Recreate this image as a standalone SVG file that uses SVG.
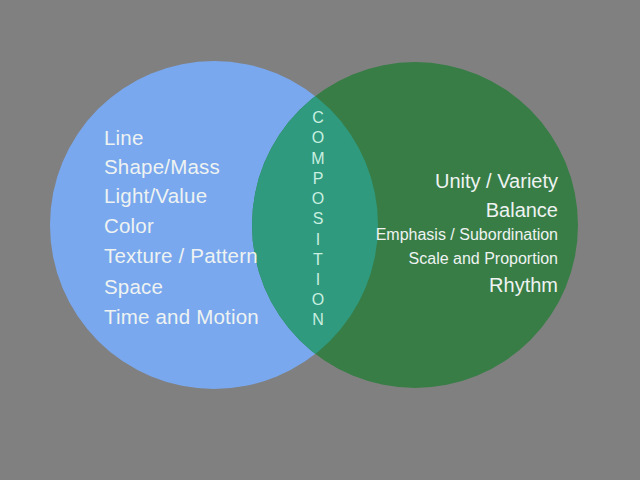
<svg xmlns="http://www.w3.org/2000/svg" width="640" height="480" viewBox="0 0 640 480">
  <style>
    .t { font-family: "Liberation Sans", Arial, sans-serif; fill: #eef3f2; }
    .l { font-size: 20.5px; letter-spacing: 0.2px; }
    .r { text-anchor: end; }
    .big { font-size: 20px; }
    .sm { font-size: 16px; }
    .c { font-family: "Liberation Sans", Arial, sans-serif; font-size: 16px; fill: #c9efe0; text-anchor: middle; }
  </style>
  <defs>
    <clipPath id="clipBlue">
      <circle cx="214" cy="225" r="164"/>
    </clipPath>
  </defs>
  <rect width="640" height="480" fill="#808080"/>
  <g id="elements">
    <circle cx="214" cy="225" r="164" fill="#79a8ee"/>
  </g>
  <g id="principles">
    <circle cx="415" cy="225" r="163" fill="#387d46"/>
  </g>
  <g id="composition">
    <circle cx="415" cy="225" r="163" fill="#2f9a7e" clip-path="url(#clipBlue)"/>
    <text class="c" x="318" y="123">C</text>
    <text class="c" x="318" y="143">O</text>
    <text class="c" x="318" y="164">M</text>
    <text class="c" x="318" y="184">P</text>
    <text class="c" x="318" y="204">O</text>
    <text class="c" x="318" y="224">S</text>
    <text class="c" x="318" y="245">I</text>
    <text class="c" x="318" y="265">T</text>
    <text class="c" x="318" y="285">I</text>
    <text class="c" x="318" y="305">O</text>
    <text class="c" x="318" y="325">N</text>
  </g>
  <g id="elements-text">
    <text class="t l" x="104" y="145">Line</text>
    <text class="t l" x="104" y="174">Shape/Mass</text>
    <text class="t l" x="104" y="203">Light/Value</text>
    <text class="t l" x="104" y="233">Color</text>
    <text class="t l" x="104" y="263">Texture / Pattern</text>
    <text class="t l" x="104" y="294">Space</text>
    <text class="t l" x="104" y="324">Time and Motion</text>
  </g>
  <g id="principles-text">
    <text class="t r big" x="558" y="188">Unity / Variety</text>
    <text class="t r big" x="558" y="217">Balance</text>
    <text class="t r sm" x="558" y="240">Emphasis / Subordination</text>
    <text class="t r sm" x="558" y="264">Scale and Proportion</text>
    <text class="t r big" x="558" y="292">Rhythm</text>
  </g>
  <g id="connectors"/>
</svg>
